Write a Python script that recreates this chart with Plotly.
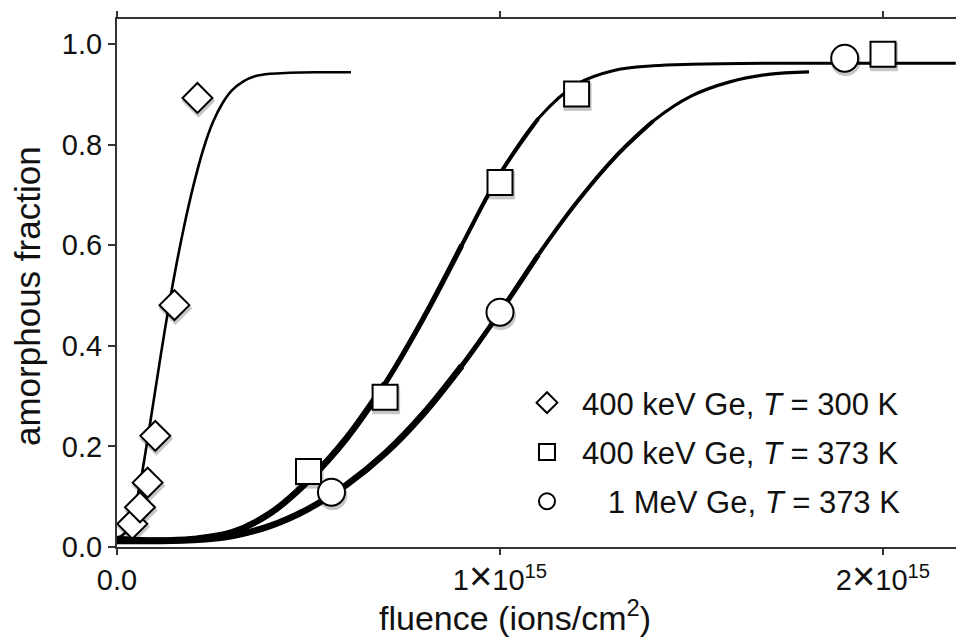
import plotly.graph_objects as go

# ---------------- data (fluence in units of 1e15 ions/cm^2) ----------------
E15 = 1e15

# measured points
d300_x = [0.04, 0.06, 0.08, 0.10, 0.15, 0.21]
d300_y = [0.046, 0.079, 0.128, 0.221, 0.481, 0.893]

s373_x = [0.50, 0.70, 1.00, 1.20, 2.00]
s373_y = [0.150, 0.298, 0.725, 0.901, 0.980]

c373_x = [0.56, 1.00, 1.90]
c373_y = [0.109, 0.467, 0.972]

# fitted curves
fit300_x = [0, 0.02, 0.04, 0.06, 0.08, 0.10, 0.125, 0.15, 0.175, 0.20, 0.225, 0.25,
            0.275, 0.30, 0.33, 0.36, 0.40, 0.45, 0.52, 0.611]
fit300_y = [0.018, 0.027, 0.060, 0.125, 0.215, 0.312, 0.432, 0.541, 0.637, 0.720, 0.790,
            0.844, 0.882, 0.908, 0.926, 0.936, 0.941, 0.943, 0.944, 0.944]

fitS_x = [0, 0.1, 0.2, 0.3, 0.4, 0.5, 0.6, 0.7, 0.8, 0.9, 1.0, 1.1, 1.2, 1.3, 1.4, 1.5,
          1.7, 2.0, 2.19]
fitS_y = [0.016, 0.013, 0.016, 0.029, 0.067, 0.132, 0.217, 0.325, 0.455, 0.600, 0.742,
          0.852, 0.920, 0.948, 0.957, 0.960, 0.962, 0.962, 0.962]

fitC_x = [0, 0.1, 0.2, 0.3, 0.4, 0.5, 0.6, 0.7, 0.8, 0.9, 1.0, 1.1, 1.2, 1.3, 1.4, 1.5,
          1.6, 1.7, 1.807]
fitC_y = [0.012, 0.012, 0.014, 0.022, 0.042, 0.076, 0.124, 0.186, 0.265, 0.360, 0.467,
          0.581, 0.685, 0.775, 0.847, 0.897, 0.925, 0.940, 0.945]

labels = ["400 keV Ge, <i>T</i> = 300 K",
          "400 keV Ge, <i>T</i> = 373 K",
          "\u00a0\u00a0\u00a01 MeV Ge, <i>T</i> = 373 K"]

x_tickvals = [0, 1, 2]
x_ticktext = ["0.0",
              '1<span style="font-size:40px">\u00d7</span>10<sup>15</sup>',
              '2<span style="font-size:40px">\u00d7</span>10<sup>15</sup>']
y_tickvals = [0.0, 0.2, 0.4, 0.6, 0.8, 1.0]

# ---------------- layout geometry ----------------
W, H = 956, 637
ML, MT, MB, MR = 117, 19, 90, 0
PW, PH = W - ML - MR, H - MT - MB
XMAX = PW / 383.0 * E15      # 383 px per 1e15
YMAX = 1.05
px_x = XMAX / PW
px_y = YMAX / PH

FONT = "Liberation Sans, Arial, Helvetica, sans-serif"
INK = "#111111"
AX = "#333333"

def sc(v):
    return [a * E15 for a in v]

fig = go.Figure()

# curves: full curve thin, with thicker overlays on the lower part (as in the reference)
def add_curve(xs, ys, base_w, overlays):
    parts = [(len(xs) - 1, base_w)] + overlays
    for end, w in parts:
        fig.add_trace(go.Scatter(
            x=sc(xs[:end + 1]), y=ys[:end + 1], mode="lines",
            line=dict(color="black", width=w, shape="spline", smoothing=1.0),
            showlegend=False, hoverinfo="skip", xaxis="x", yaxis="y"))

add_curve(fit300_x, fit300_y, 2.6, [])
add_curve(fitS_x, fitS_y, 3.0, [(11, 4.0), (9, 5.2), (7, 6.5)])
add_curve(fitC_x, fitC_y, 3.2, [(14, 4.0), (11, 5.0), (9, 6.5)])

series = [
    (d300_x, d300_y, "diamond", 23),
    (s373_x, s373_y, "square", 25),
    (c373_x, c373_y, "circle", 27),
]

# soft shadows (same data on a shifted overlay axis)
for xs, ys, sym, sz in series:
    fig.add_trace(go.Scatter(
        x=sc(xs), y=ys, mode="markers",
        marker=dict(symbol=sym, size=sz + 3, color="rgba(0,0,0,0.22)", line=dict(width=0)),
        showlegend=False, hoverinfo="skip", cliponaxis=False, xaxis="x2", yaxis="y2"))

# markers
for i, (xs, ys, sym, sz) in enumerate(series):
    fig.add_trace(go.Scatter(
        x=sc(xs), y=ys, mode="markers", name=labels[i], legendgroup=f"g{i}",
        marker=dict(symbol=sym, size=sz, color="white", line=dict(color="black", width=2)),
        cliponaxis=False, xaxis="x3", yaxis="y3"))

fig.update_layout(
    width=W, height=H,
    margin=dict(l=ML, r=MR, t=MT, b=MB),
    paper_bgcolor="white", plot_bgcolor="white",
    font=dict(family=FONT, color=INK, size=29),
    xaxis=dict(range=[0, XMAX], tickvals=sc(x_tickvals), ticktext=x_ticktext,
               showline=True, linecolor=AX, linewidth=2, mirror="ticks",
               ticks="outside", ticklen=6, tickwidth=2, tickcolor=AX,
               showgrid=False, zeroline=False, tickfont=dict(size=29)),
    yaxis=dict(range=[0, YMAX], tickvals=y_tickvals, tickformat=".1f",
               showline=True, linecolor=AX, linewidth=2,
               ticks="outside", ticklen=7, tickwidth=2, tickcolor=AX,
               showgrid=False, zeroline=False, tickfont=dict(size=29)),
    xaxis2=dict(overlaying="x", range=[-1 * px_x, XMAX - 1 * px_x], visible=False),
    yaxis2=dict(overlaying="y", range=[3 * px_y, YMAX + 3 * px_y], visible=False),
    xaxis3=dict(overlaying="x", range=[0, XMAX], visible=False),
    yaxis3=dict(overlaying="y", range=[0, YMAX], visible=False),
    showlegend=True,
    legend=dict(x=(512 - ML) / PW, y=(547 - 376) / PH, xanchor="left", yanchor="top",
                bgcolor="rgba(0,0,0,0)", borderwidth=0, tracegroupgap=6, itemwidth=60,
                font=dict(size=31, family=FONT, color=INK)),
    annotations=[
        dict(text="fluence (ions/cm<sup>2</sup>)", xref="paper", yref="paper",
             x=(515 - ML) / PW, y=-(615 - 547) / PH, xanchor="center", yanchor="middle",
             showarrow=False, font=dict(size=34, family=FONT, color=INK)),
        dict(text="amorphous fraction", xref="paper", yref="paper", textangle=-90,
             x=(27 - ML) / PW, y=(547 - 296) / PH, xanchor="center", yanchor="middle",
             showarrow=False, font=dict(size=35, family=FONT, color=INK)),
    ],
)

fig.write_html("out.html")
